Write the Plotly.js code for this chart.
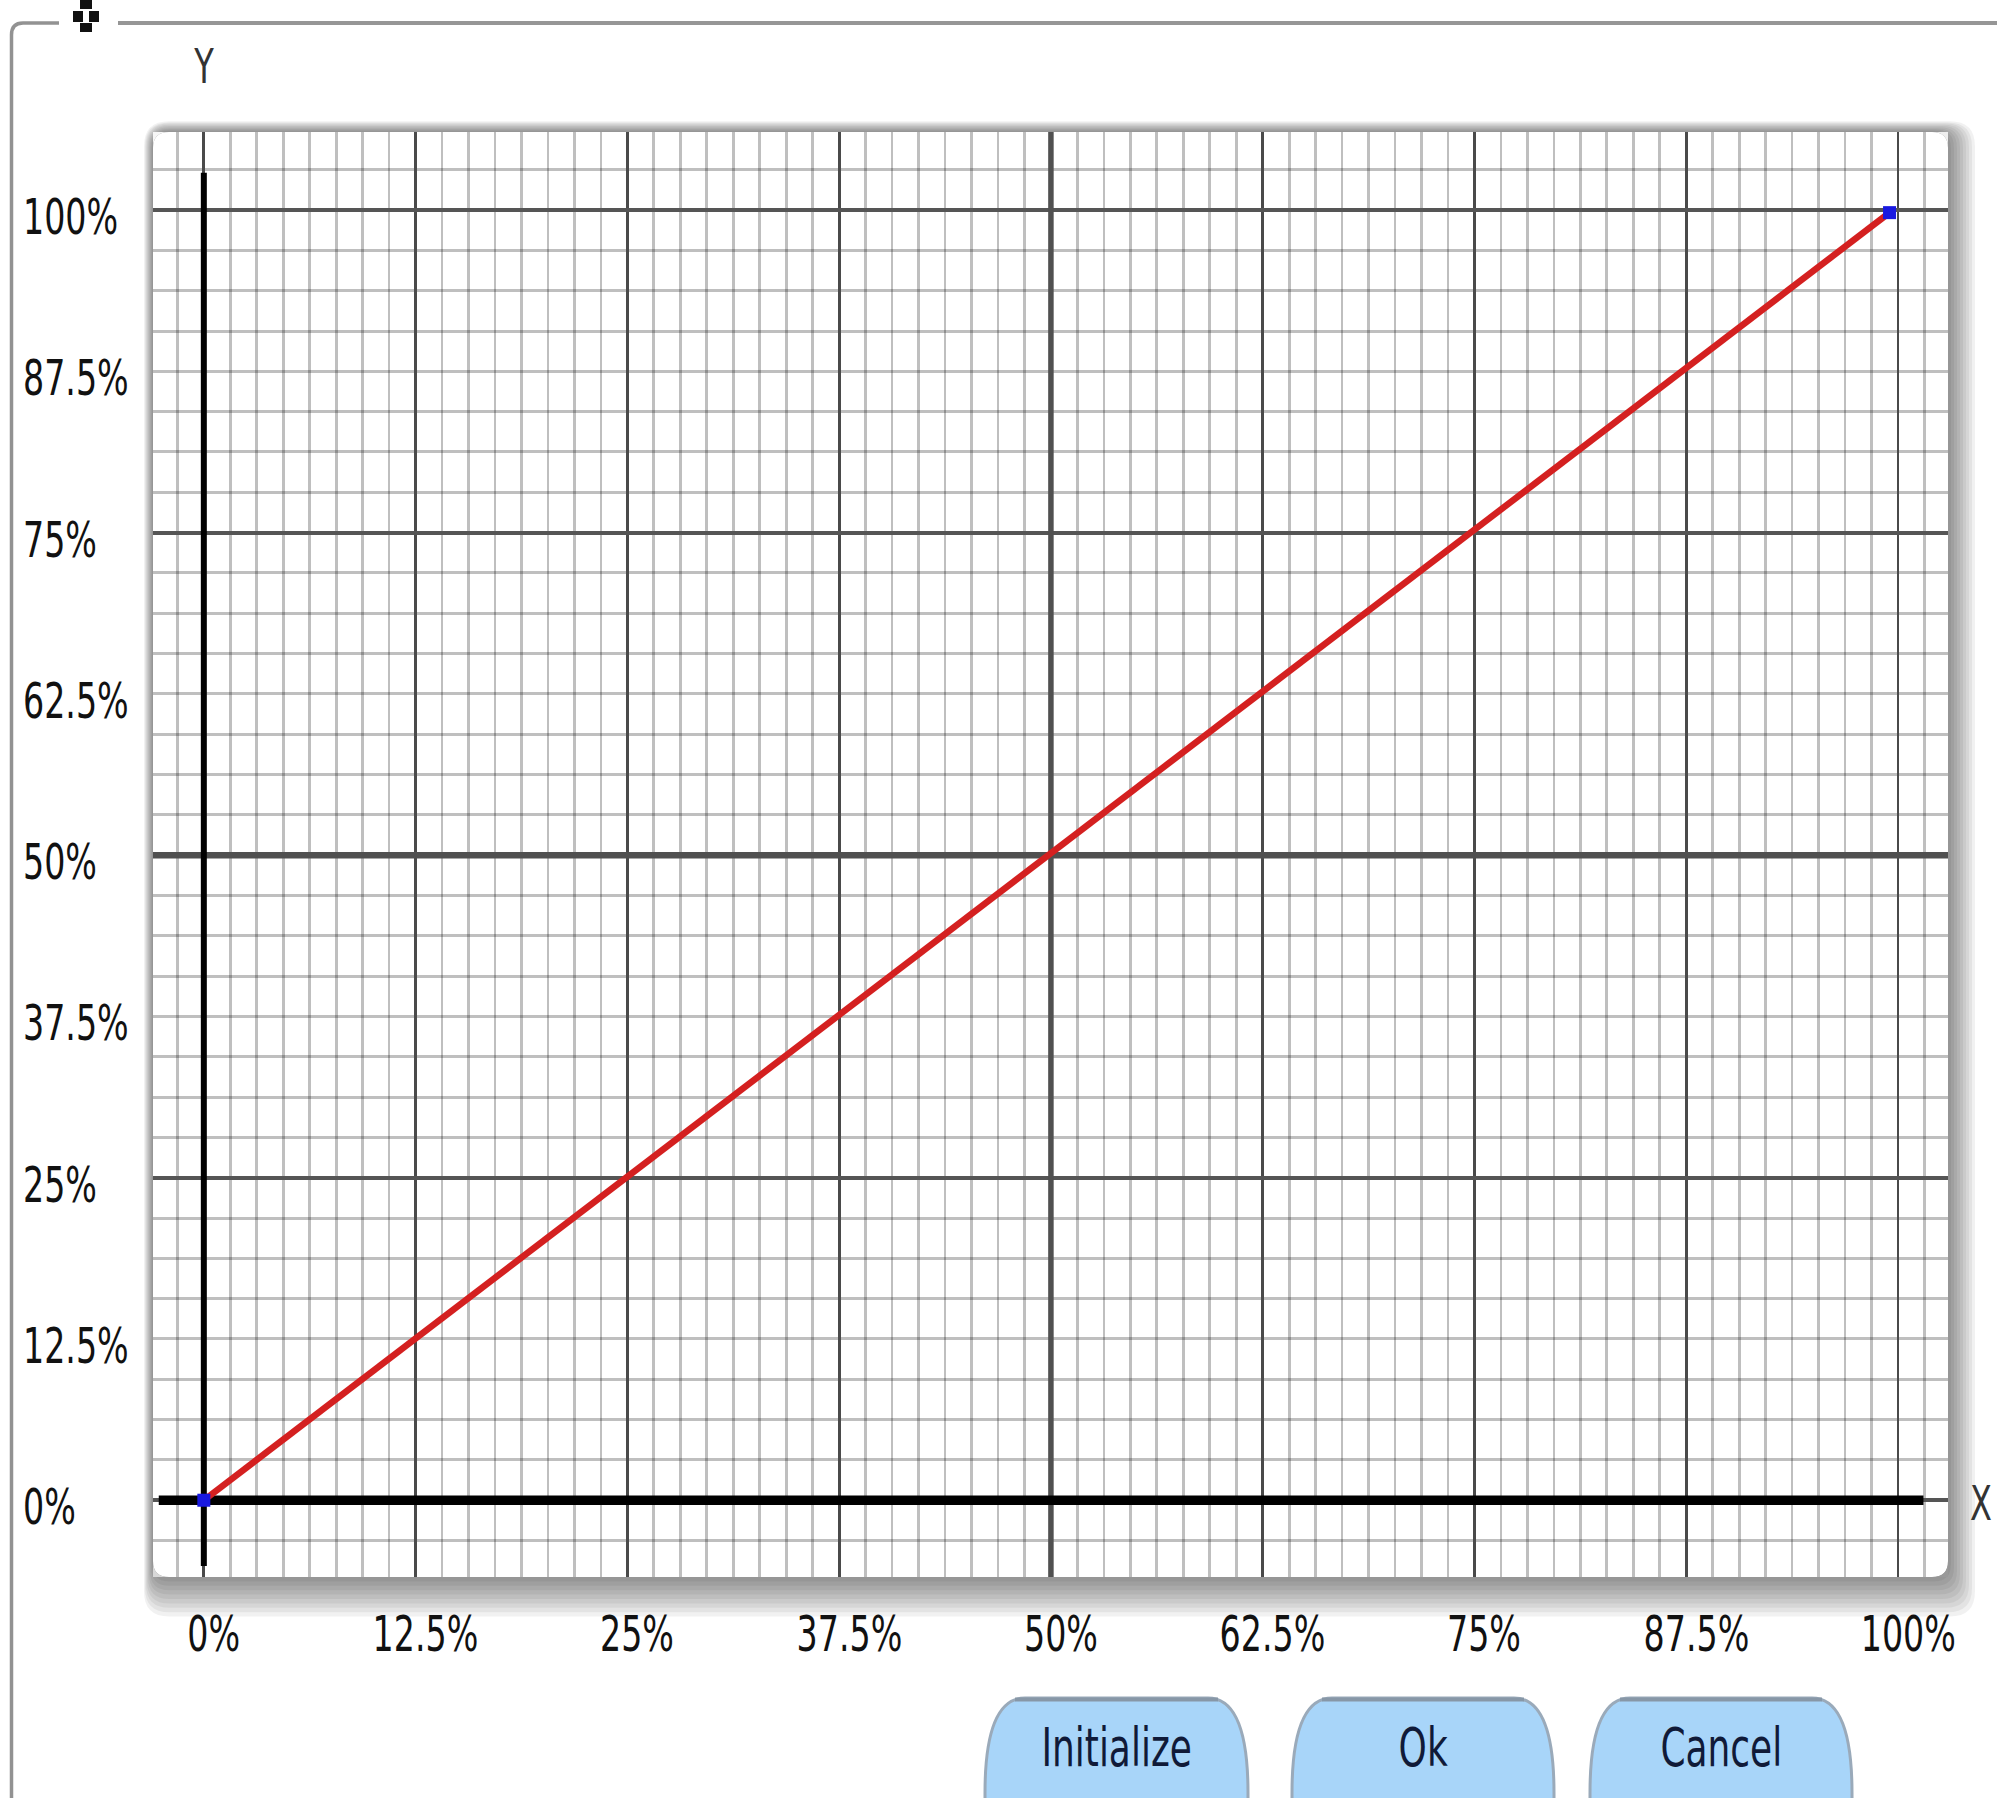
<!DOCTYPE html>
<html>
<head>
<meta charset="utf-8">
<script src="https://cdn.plot.ly/plotly-3.0.1.min.js"></script>
<style>
html,body{margin:0;padding:0;background:#ffffff;}
#chart{width:1997px;height:1798px;}
</style>
</head>
<body>
<div id="chart"></div>
<script>
// ---- data ----
const curveX = [0, 99.5];
const curveY = [0, 99.8];
const xTickVals = [0, 12.5, 25, 37.5, 50, 62.5, 75, 87.5, 100];
const xTickText = ['0%', '12.5%', '25%', '37.5%', '50%', '62.5%', '75%', '87.5%', '100%'];
const yTickVals = [0, 12.5, 25, 37.5, 50, 62.5, 75, 87.5, 100];
const yTickText = ['0%', '12.5%', '25%', '37.5%', '50%', '62.5%', '75%', '87.5%', '100%'];
const axisNames = ['X', 'Y'];
const buttonLabels = ['Initialize', 'Ok', 'Cancel'];

// ---- layout geometry (pixels) ----
const FIG_W = 1997, FIG_H = 1798;
const L = 153, R = 1948, T = 132, B = 1577;
const W = R - L, H = B - T;
const XR = [-3.0, 102.95];
const YR = [-5.95, 106.05];
const px = v => (v - L) / W;
const py = v => (B - v) / H;
const dX = v => XR[0] + (v - L) / W * (XR[1] - XR[0]);
const dY = v => YR[0] + (B - v) / H * (YR[1] - YR[0]);

const FONT = "'DejaVu Sans Condensed', 'Liberation Sans', sans-serif";
const TEXT_SCALE_X = 0.74;

function rrPath(x0, y0, x1, y1, rx, ry) {
  return `M ${px(x0 + rx)},${py(y0)} L ${px(x1 - rx)},${py(y0)} ` +
    `Q ${px(x1)},${py(y0)} ${px(x1)},${py(y0 + ry)} L ${px(x1)},${py(y1 - ry)} ` +
    `Q ${px(x1)},${py(y1)} ${px(x1 - rx)},${py(y1)} L ${px(x0 + rx)},${py(y1)} ` +
    `Q ${px(x0)},${py(y1)} ${px(x0)},${py(y1 - ry)} L ${px(x0)},${py(y0 + ry)} ` +
    `Q ${px(x0)},${py(y0)} ${px(x0 + rx)},${py(y0)} Z`;
}

const shapes = [];

// group box frame
shapes.push({type: 'path', xref: 'paper', yref: 'paper', layer: 'below',
  path: `M ${px(11.5)},${py(1830)} L ${px(11.5)},${py(35)} Q ${px(11.5)},${py(23)} ${px(23)},${py(23)} L ${px(59)},${py(23)}`,
  line: {color: '#929292', width: 3.5}});
shapes.push({type: 'line', xref: 'paper', yref: 'paper', layer: 'below',
  x0: px(118), x1: px(2010), y0: py(23), y1: py(23),
  line: {color: '#969696', width: 4}});
// group box icon (four small squares)
[[80, 0, 92, 9], [73, 11, 83, 22], [89, 11, 99, 22], [80, 23, 92, 32]].forEach(s => {
  shapes.push({type: 'rect', xref: 'paper', yref: 'paper', layer: 'above',
    x0: px(s[0]), x1: px(s[2]), y0: py(s[1]), y1: py(s[3]),
    fillcolor: '#111111', line: {width: 0}});
});

// panel shadow
for (let i = 1; i <= 9; i++) {
  shapes.push({type: 'path', xref: 'paper', yref: 'paper', layer: 'below',
    path: rrPath(L - 1.0 * i, T - 1.2 * i, R + 3.0 * i, B + 4.4 * i, 16 + i, 16 + i),
    fillcolor: 'rgba(0,0,0,0.055)', line: {width: 0}});
}
// white panel
shapes.push({type: 'path', xref: 'paper', yref: 'paper', layer: 'below',
  path: rrPath(L, T, R, B, 16, 16), fillcolor: '#ffffff', line: {width: 0}});

// rounded-corner masks over the grid
const cr = 16;
function cornerMask(cx, cy, sx, sy, color) {
  const ax = dX(cx + sx * cr), ay = dY(cy);
  const bx = dX(cx), by = dY(cy + sy * cr);
  const kx = dX(cx), ky = dY(cy);
  return {type: 'path', xref: 'x', yref: 'y', layer: 'between',
    path: `M ${kx},${ky} L ${ax},${ay} Q ${kx},${ky} ${bx},${by} Z`,
    fillcolor: color, line: {width: 0}};
}
shapes.push(cornerMask(L, T, 1, 1, '#f6f6f6'));
shapes.push(cornerMask(R, T, -1, 1, '#eeeeee'));
shapes.push(cornerMask(L, B, 1, -1, '#d8d8d8'));
shapes.push(cornerMask(R, B, -1, -1, '#9a9a9a'));

// heavy 50% lines
shapes.push({type: 'line', xref: 'x', yref: 'y', layer: 'between',
  x0: XR[0], x1: XR[1], y0: 50, y1: 50, line: {color: '#505050', width: 6.5}});
shapes.push({type: 'line', xref: 'x', yref: 'y', layer: 'between',
  x0: 50, x1: 50, y0: YR[0], y1: YR[1], line: {color: '#505050', width: 5.5}});

// X / Y axes (black)
shapes.push({type: 'line', xref: 'x', yref: 'y', layer: 'between',
  x0: -2.66, x1: 101.5, y0: 0, y1: 0, line: {color: '#000000', width: 9.5}});
shapes.push({type: 'line', xref: 'x', yref: 'y', layer: 'between',
  x0: 0, x1: 0, y0: -5.1, y1: 102.9, line: {color: '#000000', width: 6}});

// buttons
const btnX = [[985, 1248], [1292, 1554], [1590, 1852]];
const annotations = [];
buttonLabels.forEach((lab, i) => {
  const [x0, x1] = btnX[i];
  shapes.push({type: 'path', xref: 'paper', yref: 'paper', layer: 'above',
    path: rrPath(x0, 1698, x1, 1900, 40, 95),
    fillcolor: '#a8d5f9', line: {color: '#9aaaba', width: 3}});
  shapes.push({type: 'line', xref: 'paper', yref: 'paper', layer: 'above',
    x0: px(x0 + 30), x1: px(x1 - 30), y0: py(1699.5), y1: py(1699.5),
    line: {color: '#8797a7', width: 4}});
  annotations.push({xref: 'paper', yref: 'paper', x: px((x0 + x1) / 2), y: py(1747),
    xanchor: 'center', yanchor: 'middle', showarrow: false, text: lab,
    font: {family: FONT, size: 54, color: '#101a38'}});
});

// tick labels
xTickVals.forEach((v, i) => {
  annotations.push({xref: 'x', yref: 'paper', x: v, y: py(1634), xshift: 10,
    xanchor: 'center', yanchor: 'middle', showarrow: false, text: xTickText[i],
    font: {family: FONT, size: 50, color: '#111111'}});
});
yTickVals.forEach((v, i) => {
  annotations.push({xref: 'paper', yref: 'y', x: px(21), y: v, yshift: -7,
    xanchor: 'left', yanchor: 'middle', showarrow: false, text: yTickText[i],
    font: {family: FONT, size: 50, color: '#111111'}});
});
// axis names
annotations.push({xref: 'paper', yref: 'y', x: px(1968), y: 0, yshift: -3,
  xanchor: 'left', yanchor: 'middle', showarrow: false, text: axisNames[0],
  font: {family: FONT, size: 48, color: '#333333'}});
annotations.push({xref: 'x', yref: 'paper', x: 0, y: py(66),
  xanchor: 'center', yanchor: 'middle', showarrow: false, text: axisNames[1],
  font: {family: FONT, size: 48, color: '#333333'}});

const traces = [{
  type: 'scatter', mode: 'lines+markers', x: curveX, y: curveY,
  line: {color: '#d42020', width: 6.5},
  marker: {symbol: 'square', size: 13, color: '#1818e0', line: {width: 0}},
  hoverinfo: 'skip', showlegend: false
}];

const layout = {
  width: FIG_W, height: FIG_H,
  margin: {l: L, r: FIG_W - R, t: T, b: FIG_H - B, pad: 0},
  paper_bgcolor: '#ffffff',
  plot_bgcolor: 'rgba(0,0,0,0)',
  showlegend: false,
  xaxis: {
    range: XR, tick0: 0, dtick: 12.5, showticklabels: false, ticks: '',
    showgrid: true, gridcolor: '#4a4a4a', gridwidth: 2.7,
    zeroline: false, showline: false, fixedrange: true,
    minor: {tick0: 0, dtick: 1.5625, showgrid: true, gridcolor: 'rgba(0,0,0,0.25)', gridwidth: 2.7, ticks: ''}
  },
  yaxis: {
    range: YR, tick0: 0, dtick: 25, showticklabels: false, ticks: '',
    showgrid: true, gridcolor: '#555555', gridwidth: 4,
    zeroline: false, showline: false, fixedrange: true,
    minor: {tick0: 0, dtick: 3.125, showgrid: true, gridcolor: 'rgba(0,0,0,0.25)', gridwidth: 3, ticks: ''}
  },
  shapes: shapes,
  annotations: annotations
};

Plotly.newPlot('chart', traces, layout, {displayModeBar: false, staticPlot: true}).then(gd => {
  // narrow the text horizontally to match the condensed UI font
  gd.querySelectorAll('g.annotation').forEach(g => {
    const idx = +g.getAttribute('data-index');
    const ann = layout.annotations[idx];
    if (!ann) return;
    const t = g.querySelector('text.annotation-text');
    if (!t) return;
    const bb = t.getBBox();
    const ox = ann.xanchor === 'left' ? bb.x : bb.x + bb.width / 2;
    t.setAttribute('transform', `translate(${ox},0) scale(${TEXT_SCALE_X},1) translate(${-ox},0)`);
  });
});
</script>
</body>
</html>
